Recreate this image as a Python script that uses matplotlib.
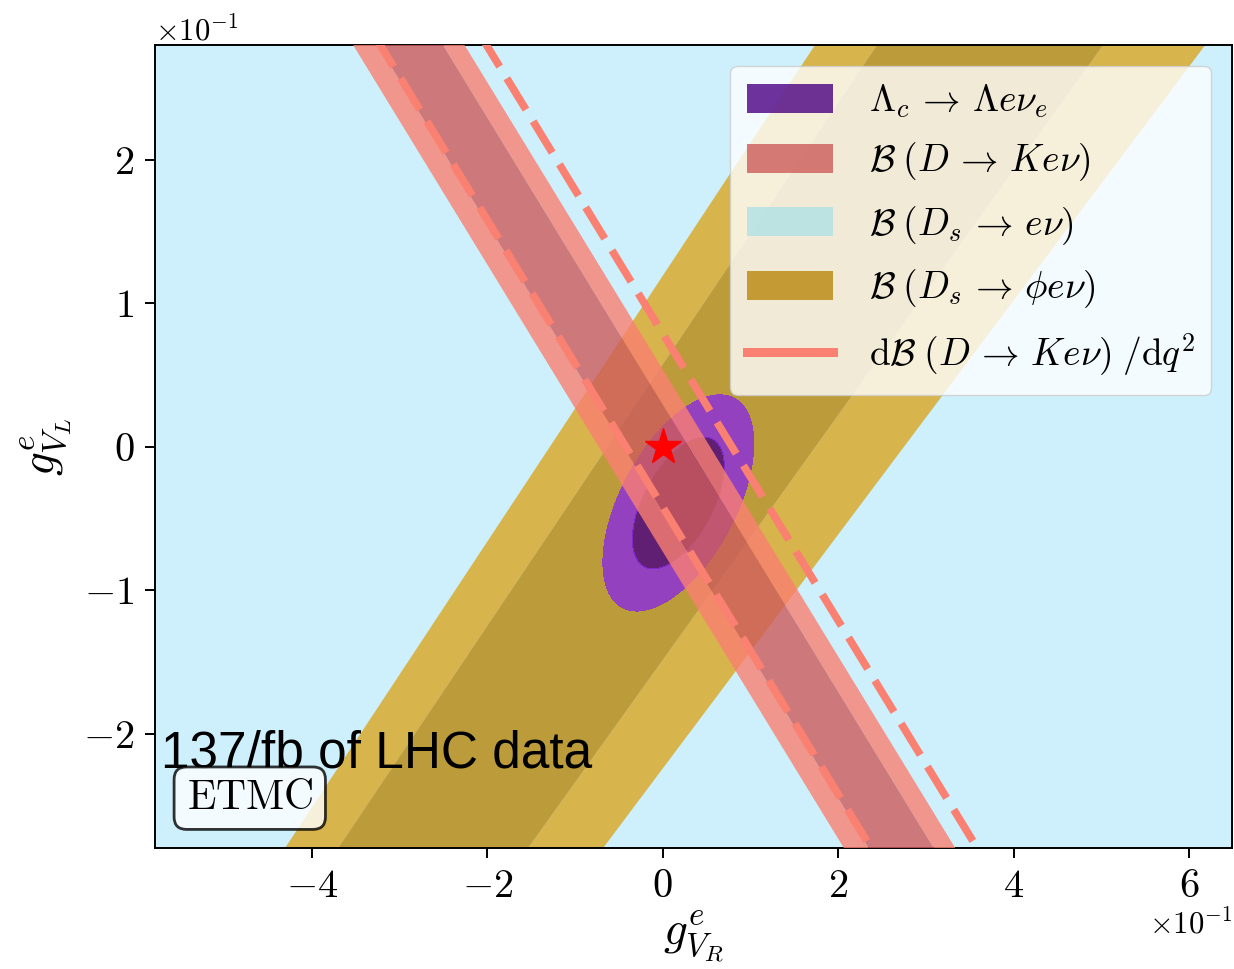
import numpy as np
import matplotlib
matplotlib.use('Agg')
import matplotlib.pyplot as plt
from matplotlib.patches import Patch
from matplotlib.lines import Line2D

plt.rcParams['font.family'] = 'serif'
plt.rcParams['font.serif'] = ['cmr10']
plt.rcParams['mathtext.fontset'] = 'cm'
plt.rcParams['axes.formatter.use_mathtext'] = True

# axis ranges / ticks (real units, shown as x10^-1)
x_lim = (-0.579, 0.649)
y_lim = (-0.2794, 0.2801)
x_ticks = [-0.4, -0.2, 0.0, 0.2, 0.4, 0.6]
y_ticks = [-0.2, -0.1, 0.0, 0.1, 0.2]

# B(D -> K e nu): band edges of gVR + gVL = c  (2 sigma lo, 1 sigma lo, 1 sigma hi, 2 sigma hi)
dk_edges = [-0.073, -0.0447, 0.0294, 0.054]
# dB/dq2 (D -> K e nu): dashed contours of gVR + gVL = c
dk_q2_lines = [-0.042, 0.079]

# B(Ds -> phi e nu): edges gVR = x0 + s * gVL (2s left, 1s left, 1s right, 2s right)
dsphi_x0 = [-0.1289, -0.0633, 0.1739, 0.2748]
dsphi_slope = [1.080, 1.098, 1.172, 1.227]

# Lambda_c -> Lambda e nu: gaussian fit (center, sigmas, correlation)
lam_center = (0.0177, -0.039)
lam_sigma = (0.0346, 0.0303)
lam_rho = 0.55
chi2_levels = [0.0, 2.30, 6.18]

# Standard Model point
sm_point = (0.0, 0.0)

labels = [r'$\Lambda_c \,\to\, \Lambda e \nu_e$',
          r'$\mathcal{B}\;(D \,\to\, K e \nu)$',
          r'$\mathcal{B}\;(D_s \,\to\, e \nu)$',
          r'$\mathcal{B}\;(D_s \,\to\, \phi e \nu)$',
          r'$\mathrm{d}\mathcal{B}\;(D \,\to\, K e \nu)\;/\mathrm{d}q^2$']

fig = plt.figure(figsize=(12.34, 9.69), dpi=100)
ax = fig.add_axes([0.1256, 0.1249, 0.8728, 0.8287])
ax.set_facecolor('#cdf0fc')

yy = np.linspace(-0.4, 0.4, 50)

# Ds -> phi e nu band
edges = [np.array(dsphi_x0[i]) + dsphi_slope[i] * yy for i in range(4)]
ax.fill_betweenx(yy, edges[0], edges[1], color='goldenrod', alpha=0.8, lw=0, zorder=1)
ax.fill_betweenx(yy, edges[2], edges[3], color='goldenrod', alpha=0.8, lw=0, zorder=1)
ax.fill_betweenx(yy, edges[1], edges[2], color='darkgoldenrod', alpha=0.8, lw=0, zorder=1)

# Lambda_c ellipse
gx = np.linspace(x_lim[0], x_lim[1], 600)
gy = np.linspace(y_lim[0], y_lim[1], 600)
X, Y = np.meshgrid(gx, gy)
sx, sy = lam_sigma
cov = np.array([[sx ** 2, lam_rho * sx * sy], [lam_rho * sx * sy, sy ** 2]])
inv = np.linalg.inv(cov)
dx = X - lam_center[0]
dy = Y - lam_center[1]
chi2 = inv[0, 0] * dx ** 2 + 2 * inv[0, 1] * dx * dy + inv[1, 1] * dy ** 2
ax.contourf(X, Y, chi2, levels=chi2_levels, colors=['indigo', 'blueviolet'], alpha=0.8, zorder=2)

# D -> K e nu band
ax.fill_betweenx(yy, dk_edges[0] - yy, dk_edges[1] - yy, color='salmon', alpha=0.8, lw=0, zorder=3)
ax.fill_betweenx(yy, dk_edges[2] - yy, dk_edges[3] - yy, color='salmon', alpha=0.8, lw=0, zorder=3)
ax.fill_betweenx(yy, dk_edges[1] - yy, dk_edges[2] - yy, color='indianred', alpha=0.8, lw=0, zorder=3)

for c in dk_q2_lines:
    ax.plot(c - yy, yy, color='salmon', lw=5.5, dashes=(4.8, 1.8), zorder=4)

ax.plot(*sm_point, marker='*', color='red', markersize=27, zorder=5)

ax.set_xlim(*x_lim)
ax.set_ylim(*y_lim)
ax.set_xticks(x_ticks)
ax.set_yticks(y_ticks)
ax.ticklabel_format(axis='both', style='sci', scilimits=(-1, -1), useMathText=True)
ax.tick_params(labelsize=29, length=7, width=1.4, pad=8)
for sp in ax.spines.values():
    sp.set_linewidth(1.4)
ax.xaxis.get_offset_text().set_fontsize(22)
ax.yaxis.get_offset_text().set_fontsize(22)

ax.set_xlabel(r'$g^e_{V_R}$', fontsize=34, labelpad=4)
ax.set_ylabel(r'$g^e_{V_L}$', fontsize=34, labelpad=6)

handles = [Patch(facecolor='indigo', alpha=0.8),
           Patch(facecolor='indianred', alpha=0.8),
           Patch(facecolor='powderblue', alpha=0.8),
           Patch(facecolor='darkgoldenrod', alpha=0.8),
           Line2D([], [], color='salmon', lw=6.5)]
ax.legend(handles, labels, loc='upper right', fontsize=27, handlelength=2.3,
          handleheight=0.8, handletextpad=0.95, borderaxespad=0.55, labelspacing=0.55,
          borderpad=0.45, framealpha=0.8)

ax.text(0.006, 0.1, '137/fb of LHC data', transform=ax.transAxes, fontsize=37,
        family='Liberation Sans', ha='left', va='baseline', zorder=6)
ax.text(0.088, 0.062, r'$\mathrm{ETMC}$', transform=ax.transAxes, fontsize=30,
        ha='center', va='center', zorder=6,
        bbox=dict(boxstyle='round,pad=0.3', facecolor='white', alpha=0.8,
                  edgecolor='black', lw=2))

fig.savefig('out.png', dpi=100)
